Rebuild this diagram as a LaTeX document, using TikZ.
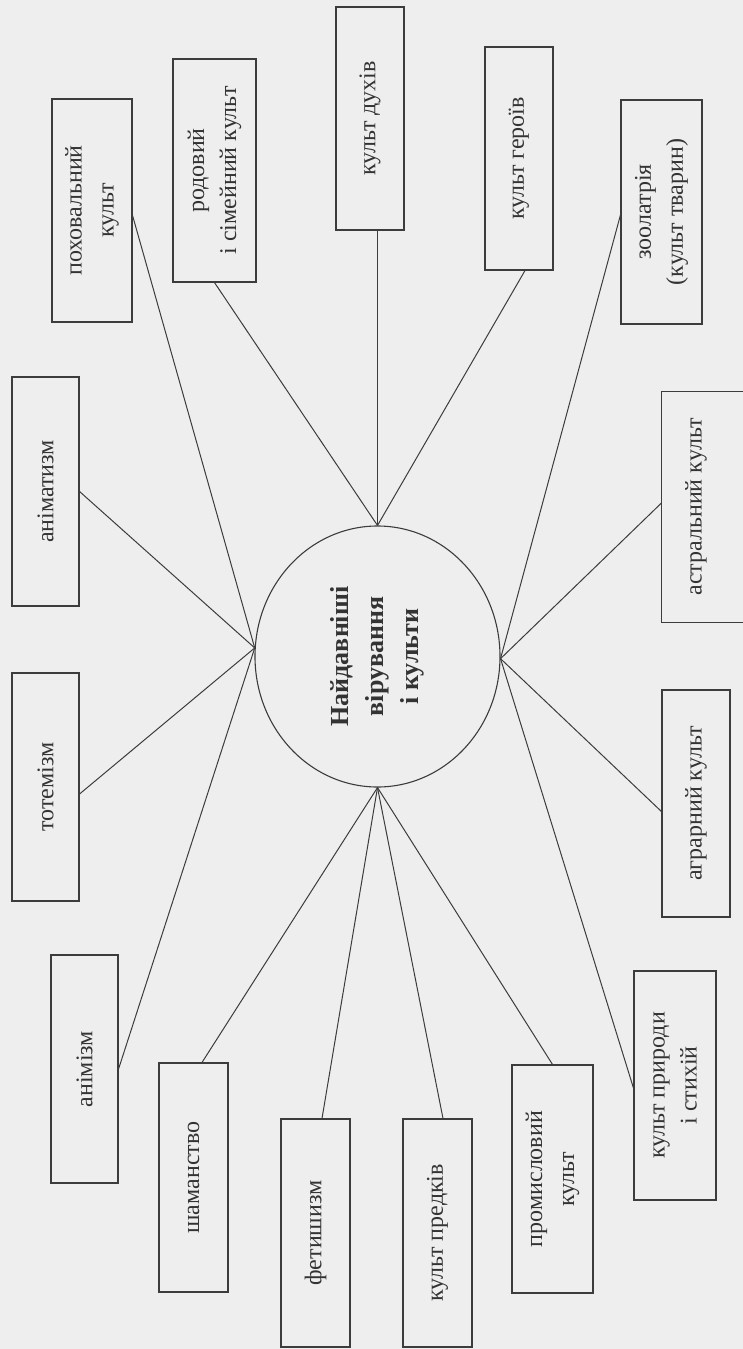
\documentclass[tikz,border=0pt]{standalone}
\usepackage{fontspec}
\setmainfont{Liberation Serif}
\usetikzlibrary{shapes.geometric}
\definecolor{paper}{HTML}{EEEEEE}
\definecolor{ink}{HTML}{333333}
\definecolor{rule}{HTML}{3C3C3C}
\tikzset{
  box/.style={draw=rule, line width=1.1pt, rectangle, inner sep=0pt, rotate=90,
    align=center, text=ink, font=\fontsize{24}{32}\selectfont},
  conn/.style={draw=rule, line width=1pt},
  hub/.style={draw=rule, line width=1.1pt, ellipse, inner sep=0pt, align=center,
    text=ink, font=\fontsize{26}{35}\selectfont\bfseries, rotate=90}
}
\begin{document}
\begin{tikzpicture}[x=1pt,y=-1pt]
\fill[paper] (0,0) rectangle (743,1349);
\useasboundingbox (0,0) rectangle (743,1349);

% central ellipse (rotated 90: north = page left, east = page top,
% south = page right, west = page bottom)
\node[hub, minimum width=261pt, minimum height=245pt] (ell) at (377.5,656.5)
  {Найдавніші\\вірування\\і культи};

% boxes
\node[box, minimum width=229pt, minimum height=67pt] (anim) at (45.5,491.5) {аніматизм};
\node[box, minimum width=228pt, minimum height=67pt] (totem) at (45.5,787) {тотемізм};
\node[box, minimum width=228pt, minimum height=67pt] (animiz) at (84.5,1069) {анімізм};
\node[box, minimum width=223pt, minimum height=80pt] (pokh) at (92,210.5) {поховальний\\культ};
\node[box, minimum width=223pt, minimum height=83pt] (rod) at (214.5,170.5) {родовий\\і сімейний культ};
\node[box, minimum width=223pt, minimum height=68pt] (duh) at (370,118.5) {культ духів};
\node[box, minimum width=223pt, minimum height=68pt] (her) at (519,158.5) {культ героїв};
\node[box, minimum width=224pt, minimum height=81pt] (zool) at (661.5,212) {зоолатрія\\(культ тварин)};
\node[box, draw=none, minimum width=230pt, minimum height=68pt] (astr) at (696,507) {астральний культ};
\draw[draw=rule, line width=1.1pt] ([xshift=20pt]astr.south east) -- (astr.north east)
  -- (astr.north west) -- ([xshift=20pt]astr.south west);
\node[box, minimum width=227pt, minimum height=68pt] (agr) at (696,803.5) {аграрний культ};
\node[box, minimum width=229pt, minimum height=82pt] (pryr) at (675,1085.5) {культ природи\\і стихій};
\node[box, minimum width=228pt, minimum height=81pt] (prom) at (552.5,1179) {промисловий\\культ};
\node[box, minimum width=228pt, minimum height=69pt] (pred) at (437.5,1233) {культ предків};
\node[box, minimum width=228pt, minimum height=69pt] (fet) at (315.5,1233) {фетишизм};
\node[box, minimum width=229pt, minimum height=69pt] (sham) at (193.5,1177.5) {шаманство};

% connectors: left hub
\draw[conn] (ell.86) -- (anim.south);
\draw[conn] (ell.86) -- ([yshift=-7pt]totem.south);
\draw[conn] (ell.86) -- (animiz.south);
\draw[conn] (ell.86) -- ([yshift=-5pt]pokh.south);
% top hub
\draw[conn] (ell.east) -- (rod.west);
\draw[conn] (ell.east) -- (ell.east |- duh.west);
\draw[conn] (ell.east) -- ([xshift=6pt]her.west);
% right hub
\draw[conn] (ell.269) -- ([yshift=-3pt]zool.north);
\draw[conn] (ell.269) -- ([yshift=4pt]astr.north);
\draw[conn] (ell.269) -- ([yshift=-8pt]agr.north);
\draw[conn] (ell.269) -- ([yshift=-2.5pt]pryr.north);
% bottom hub
\draw[conn] (ell.west) -- (prom.east);
\draw[conn] (ell.west) -- ([xshift=5.5pt]pred.east);
\draw[conn] (ell.west) -- ([xshift=6.5pt]fet.east);
\draw[conn] (ell.west) -- ([xshift=8.5pt]sham.east);
\end{tikzpicture}
\end{document}
